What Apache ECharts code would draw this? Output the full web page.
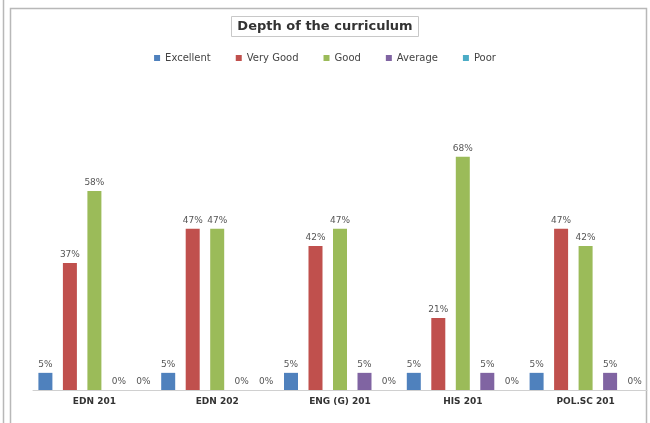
<!DOCTYPE html>
<html>
<head>
<meta charset="utf-8">
<script src="https://cdn.jsdelivr.net/npm/echarts@6/dist/echarts.min.js"></script>
<style>
  html, body { margin: 0; padding: 0; background: #fff; }
  #chart { width: 650px; height: 423px; }
</style>
</head>
<body>
<div id="chart"></div>
<script>
// 课程 / categories
var courses = ['EDN 201', 'EDN 202', 'ENG (G) 201', 'HIS 201', 'POL.SC 201'];
// 各评级百分比
var excellent = [5, 5, 5, 5, 5];
var veryGood = [37, 47, 42, 21, 47];
var good = [58, 47, 47, 68, 42];
var average = [0, 0, 5, 5, 5];
var poor = [0, 0, 0, 0, 0];

var chart = echarts.init(document.getElementById('chart'));

function bar(name, data, color) {
  return {
    name: name,
    type: 'bar',
    data: data,
    barWidth: 14,
    barGap: '75%',
    itemStyle: { color: color },
    label: {
      show: true,
      position: 'top',
      distance: 4,
      formatter: '{c}%',
      fontSize: 9,
      fontFamily: 'DejaVu Sans',
      color: '#555'
    }
  };
}

var option = {
  backgroundColor: '#fff',
  animation: false,
  // 外框
  graphic: [
    { type: 'line', shape: { x1: 3.5, y1: 0, x2: 3.5, y2: 423 }, style: { stroke: '#b8b8b8', lineWidth: 1.5 } },
    { type: 'rect', shape: { x: 10.5, y: 8.5, width: 636, height: 430 }, style: { fill: 'none', stroke: '#b8b8b8', lineWidth: 1.5 } }
  ],
  title: {
    text: 'Depth of the curriculum',
    left: 'center',
    top: 16,
    padding: [4, 6],
    borderColor: '#c8c8c8',
    borderWidth: 1,
    textStyle: {
      fontSize: 13,
      fontWeight: 'bold',
      fontFamily: 'DejaVu Sans',
      color: '#333'
    }
  },
  legend: {
    top: 48,
    left: 'center',
    icon: 'rect',
    itemWidth: 6,
    itemHeight: 6,
    itemGap: 25,
    textStyle: { fontSize: 10, fontFamily: 'DejaVu Sans', color: '#444' },
    data: ['Excellent', 'Very Good', 'Good', 'Average', 'Poor']
  },
  grid: { left: 33, right: 3, top: 47, bottom: 33 },
  xAxis: {
    type: 'category',
    data: courses,
    axisLine: { lineStyle: { color: '#d0d0d0' } },
    axisTick: { show: false },
    axisLabel: {
      fontSize: 9,
      fontWeight: 'bold',
      fontFamily: 'DejaVu Sans',
      color: '#333',
      margin: 7
    }
  },
  yAxis: {
    type: 'value',
    min: 0,
    max: 100,
    show: false,
    splitLine: { show: false }
  },
  series: [
    bar('Excellent', excellent, '#4f81bd'),
    bar('Very Good', veryGood, '#c0504d'),
    bar('Good', good, '#9bbb59'),
    bar('Average', average, '#8064a2'),
    bar('Poor', poor, '#4bacc6')
  ]
};
chart.setOption(option);
</script>
</body>
</html>
